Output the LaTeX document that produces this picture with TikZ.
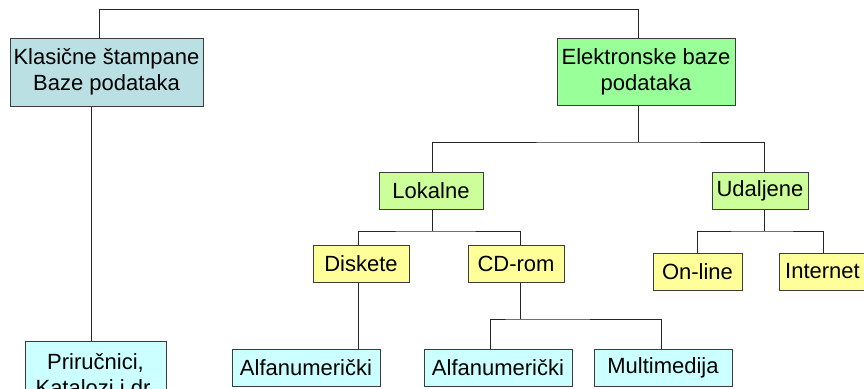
\documentclass[tikz,border=0pt]{standalone}
\usepackage{fontspec}
\setmainfont{Liberation Sans}
\definecolor{klasfill}{RGB}{187,224,228}
\definecolor{elekfill}{RGB}{153,255,153}
\definecolor{midfill}{RGB}{204,255,153}
\definecolor{yelfill}{RGB}{255,255,153}
\definecolor{cyanfill}{RGB}{204,255,255}
\definecolor{boxline}{RGB}{60,60,60}
\begin{document}
\begin{tikzpicture}[x=1pt,y=-1pt,
  box/.style={draw=boxline, line width=1pt, rectangle, inner sep=0pt, align=center,
    font=\fontsize{22}{26}\selectfont, minimum height=37pt},
  conn/.style={draw=black!85, line width=1pt}]
\useasboundingbox (0,0) rectangle (864,388);
\fill[white] (0,0) rectangle (864,388);
\clip (0,0) rectangle (864,388);

% nodes
\node[box, fill=klasfill, minimum width=193pt, minimum height=68pt] (klas) at (106.5,72) {Klasične štampane\\Baze podataka};
\node[box, fill=elekfill, minimum width=178pt, minimum height=67pt] (elek) at (646,71.5) {Elektronske baze\\podataka};
\node[box, fill=midfill, minimum width=104pt] (lok) at (431,190.5) {Lokalne};
\node[box, fill=midfill, minimum width=96pt] (uda) at (760,190.5) {Udaljene};
\node[box, fill=yelfill, minimum width=96pt] (disk) at (361,263.5) {Diskete};
\node[box, fill=yelfill, minimum width=96pt] (cd) at (516,263.5) {CD-rom};
\node[box, fill=yelfill, minimum width=89pt] (onl) at (697.5,271.5) {On-line};
\node[box, fill=yelfill, minimum width=87pt] (int) at (822.5,271.5) {Internet};
\node[box, fill=cyanfill, minimum width=141pt, minimum height=68pt] (prir) at (95.5,375) {Priručnici,\\Katalozi i dr.};
\node[box, fill=cyanfill, minimum width=148pt] (alf1) at (306,367.5) {Alfanumerički};
\node[box, fill=cyanfill, minimum width=148pt] (alf2) at (498,367.5) {Alfanumerički};
\node[box, fill=cyanfill, minimum width=138pt] (mult) at (663,367.5) {Multimedija};

% bus coordinates
\coordinate (topL) at (99,9);
\coordinate (topR) at (638,9);
\coordinate (elekBus) at (638,142);
\coordinate (lokBus) at (432,231);
\coordinate (cdBus) at (520,319);
\coordinate (udaBus) at (764,231);

% connectors
\draw[conn] ([xshift=-7.5pt]klas.north) |- (topL) -- (topR) -- ([xshift=-8pt]elek.north);
\draw[conn] ([xshift=-15pt]klas.south) -- ([xshift=-4pt]prir.north);

\draw[conn] ([xshift=-8pt]elek.south) -- (elekBus);
\draw[conn] ([xshift=1pt]lok.north) |- (elekBus) -| ([xshift=4pt]uda.north);

\draw[conn] ([xshift=1pt]lok.south) -- (lokBus);
\draw[conn] ([xshift=-3pt]disk.north) |- (lokBus) -| ([xshift=4pt]cd.north);
\draw[conn] ([xshift=-3pt]disk.south) -- ([xshift=52pt]alf1.north);

\draw[conn] ([xshift=4pt]cd.south) -- (cdBus);
\draw[conn] ([xshift=-8pt]alf2.north) |- (cdBus) -| ([xshift=-2pt]mult.north);

\draw[conn] ([xshift=4pt]uda.south) -- (udaBus);
\draw[conn] ([xshift=-0.5pt]onl.north) |- (udaBus) -| ([xshift=0.5pt]int.north);
\end{tikzpicture}
\end{document}
